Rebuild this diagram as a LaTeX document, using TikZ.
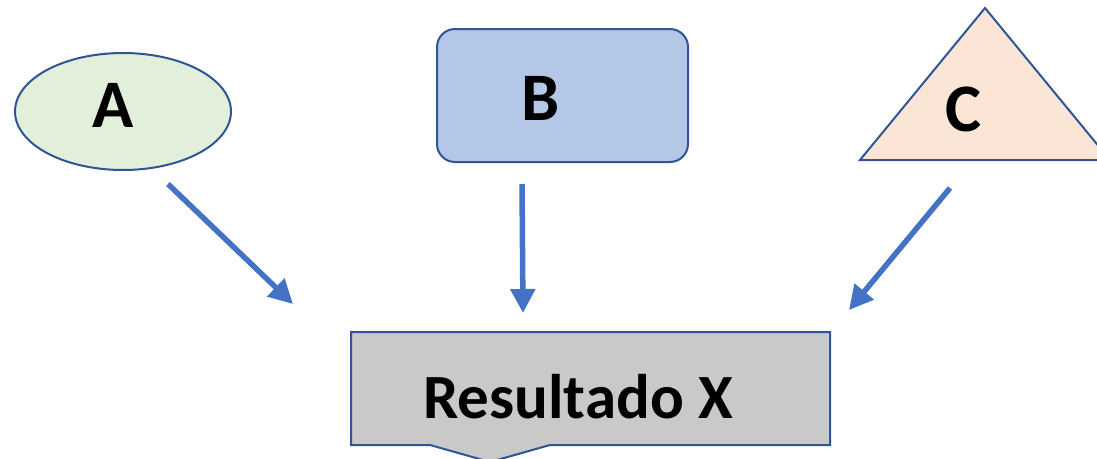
\documentclass[tikz,border=0pt]{standalone}
\usepackage{fontspec}
\setmainfont{Carlito}
\usetikzlibrary{shapes.geometric,arrows.meta}
\definecolor{bord}{HTML}{2F5597}
\definecolor{fillA}{HTML}{E2EFDA}
\definecolor{fillB}{HTML}{B4C7E7}
\definecolor{fillC}{HTML}{FBE5D6}
\definecolor{fillR}{HTML}{C9C9C9}
\definecolor{arr}{HTML}{4472C4}
\tikzset{
  shapeborder/.style={draw=bord, line width=2pt},
  biglabel/.style={font=\bfseries\fontsize{68}{74}\selectfont, text=black},
  flowarrow/.style={draw=arr, line width=5.5pt, -{Triangle[length=24pt,width=24pt]}},
}
\begin{document}
\begin{tikzpicture}[x=1pt,y=-1pt]
\useasboundingbox (0,0) rectangle (1097,458);
% A
\node[ellipse, shapeborder, fill=fillA, minimum width=216pt, minimum height=117pt, inner sep=0pt] (A) at (123,111.5) {};
\node[biglabel] (At) at (113,105) {A};
% B
\node[rectangle, rounded corners=18pt, shapeborder, fill=fillB, minimum width=251pt, minimum height=133pt, inner sep=0pt] (B) at (562.5,95.5) {};
\node[biglabel] (Bt) at (541,98) {B};
% C
\path[shapeborder, fill=fillC] (985,8) -- (1110,160) -- (860,160) -- cycle;
\node[biglabel] (C) at (963,109) {C};
% Result
\path[shapeborder, fill=fillR] (351,332) -- (830,332) -- (830,445) -- (550,445) -- (490,462) -- (430,445) -- (351,445) -- cycle;
\node[font=\bfseries\fontsize{63}{68}\selectfont] (R) at (578,397) {Resultado X};
% arrows
\coordinate (a1) at (168,184);
\coordinate (a2) at (293,304);
\coordinate (b1) at (522,184);
\coordinate (b2) at (523,313);
\coordinate (c1) at (950,188);
\coordinate (c2) at (849,310);
\draw[flowarrow] (a1) -- (a2);
\draw[flowarrow] (b1) -- (b2);
\draw[flowarrow] (c1) -- (c2);
\end{tikzpicture}
\end{document}
